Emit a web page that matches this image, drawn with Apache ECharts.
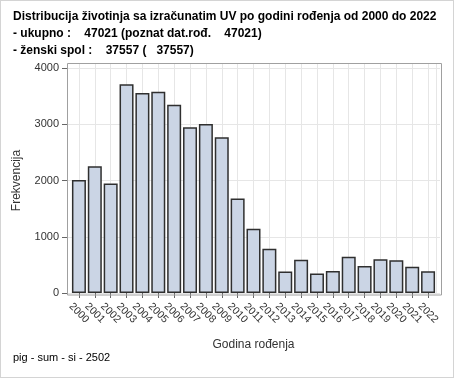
<!DOCTYPE html>
<html>
<head>
<meta charset="utf-8">
<script src="https://cdn.jsdelivr.net/npm/echarts@6/dist/echarts.min.js"></script>
<style>
  html, body { margin: 0; padding: 0; background: #fff; }
  #main { width: 454px; height: 378px; box-sizing: border-box; border: 1px solid #d4d4d4; }
</style>
</head>
<body>
<div id="main"></div>
<script>
// godine rođenja
var years = ['2000', '2001', '2002', '2003', '2004', '2005', '2006', '2007', '2008', '2009', '2010', '2011',
  '2012', '2013', '2014', '2015', '2016', '2017', '2018', '2019', '2020', '2021', '2022'];
// frekvencija po godini
var counts = [2010, 2255, 1945, 3710, 3555, 3575, 3345, 2945, 3005, 2770, 1680, 1140,
  785, 383, 590, 347, 390, 645, 478, 600, 580, 465, 386];
var yTicks = [0, 1000, 2000, 3000, 4000];

var titleLines = [
  'Distribucija životinja sa izračunatim UV po godini rođenja od 2000 do 2022',
  '- ukupno :    47021 (poznat dat.rođ.    47021)',
  '- ženski spol :    37557 (   37557)'
];
var footer = 'pig - sum - si - 2502';

// pomocna os za vertikalne linije kroz sredinu stupaca
var halfCats = [];
for (var i = 0; i < years.length * 2; i++) halfCats.push(i);

var font = 'Liberation Sans, Arial, sans-serif';
var myChart = echarts.init(document.getElementById('main'));

var option = {
  animation: false,
  textStyle: { fontFamily: font },
  title: [
    {
      text: titleLines.join('\n'),
      left: 7, top: 2,
      textStyle: { fontSize: 12, fontWeight: 'bold', color: '#000', lineHeight: 17, fontFamily: font }
    },
    {
      text: footer,
      left: 7, top: 346,
      textStyle: { fontSize: 11, fontWeight: 'normal', color: '#000', fontFamily: font }
    }
  ],
  grid: [
    { left: 66, right: 13, top: 67, bottom: 84 },
    { left: 70, right: 17, top: 62, bottom: 84 }
  ],
  xAxis: [
    { gridIndex: 0, type: 'value', min: 0, max: 1, show: false },
    {
      gridIndex: 1, type: 'category', data: years,
      axisLine: { show: false },
      axisTick: { show: true, alignWithLabel: true, interval: 0, length: 5, lineStyle: { color: '#666' } },
      axisLabel: {
        rotate: -45, interval: 0, fontSize: 10.5, color: '#333', margin: 20,
        align: 'center', verticalAlign: 'middle'
      },
      splitLine: { show: false },
      name: 'Godina rođenja', nameLocation: 'middle', nameGap: 46,
      nameTextStyle: { fontSize: 12, color: '#333' }
    },
    {
      gridIndex: 1, type: 'category', data: halfCats,
      axisLine: { show: false }, axisTick: { show: false }, axisLabel: { show: false },
      splitLine: {
        show: true,
        interval: function (idx) { return idx % 2 === 1; },
        lineStyle: { color: '#e6e6e6', width: 1 }
      }
    }
  ],
  yAxis: [
    {
      gridIndex: 0, type: 'value', min: yTicks[0], max: yTicks[yTicks.length - 1], interval: 1000,
      axisLine: { show: false },
      axisTick: { show: true, length: 5, lineStyle: { color: '#666' } },
      axisLabel: { fontSize: 11, color: '#333', margin: 8, formatter: function (v) { return String(v); } },
      splitLine: { show: true, lineStyle: { color: '#e6e6e6', width: 1 } },
      name: 'Frekvencija', nameLocation: 'middle', nameGap: 44,
      nameTextStyle: { fontSize: 12, color: '#333' }
    },
    { gridIndex: 1, type: 'value', min: 0, max: 4000 * 232 / 227, show: false }
  ],
  graphic: [
    {
      type: 'rect', z: 100,
      shape: { x: 66.5, y: 62.5, width: 374, height: 231.5 },
      style: { fill: null, stroke: '#a0a0a0', lineWidth: 1 }
    }
  ],
  series: [
    {
      type: 'bar',
      xAxisIndex: 1, yAxisIndex: 1,
      data: counts,
      barWidth: 14,
      itemStyle: { color: '#cbd5e5', borderColor: '#2f2f2f', borderWidth: 1.5 },
      z: 5
    }
  ]
};

myChart.setOption(option);
window.addEventListener('resize', function () {
  myChart.resize();
});
</script>
</body>
</html>
